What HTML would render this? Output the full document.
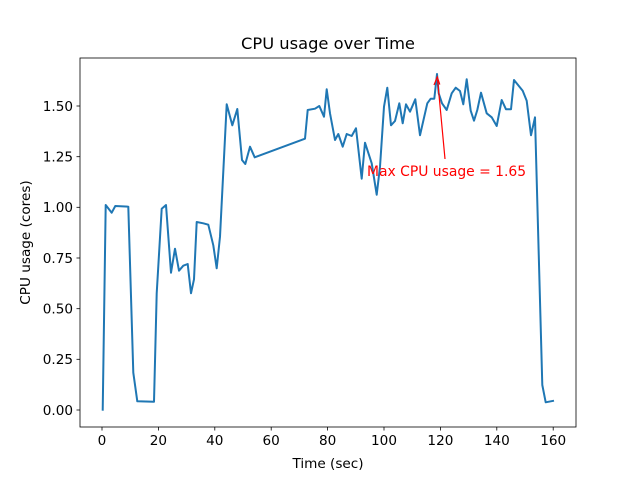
<!DOCTYPE html>
<html><head><style>body{margin:0;background:#fff}svg{display:block}text{font-family:"DejaVu Sans","Liberation Sans",sans-serif}</style></head><body>
<svg width="640" height="480" viewBox="0 0 640 480" xmlns="http://www.w3.org/2000/svg">
<rect width="640" height="480" fill="#fff"/>
<polyline fill="none" stroke="#1f77b4" stroke-width="2" stroke-linejoin="round" points="102.7,410.7 105.7,205 111.7,212.7 115.3,206 128.3,206.7 133.3,372.7 137.3,401.3 154,401.7 156.7,293.3 161.7,208.7 166,205 171,272.7 175,248.7 179,270.7 183.3,265.7 187.7,264 191,293.3 194,279.3 196.7,222 203.3,223.3 208.3,224.7 213.3,245.3 216.7,268.3 220,236.7 226.7,104.3 232.3,125.3 237.3,109 242,160 245.3,164 250,146.7 254.7,157.3 305,138.7 307.7,110 315,108.7 319.3,106 324,116.7 326.7,89.3 330,113.3 335,140 338.3,134 342.7,146.7 346.7,134 351.7,136 356,128.3 361.7,178.7 365,142.7 371.7,163.3 376.7,194.7 380,166.7 384,106.7 387.3,87.7 391,125.3 395,121 399.3,103.3 402.7,123.3 406,104.3 410,111.7 415.3,99.3 420,135.3 427.3,103.3 430.7,98.7 434.3,98.7 437,74 438.7,93.3 442,103.3 446.7,110 451.7,93.3 455.7,87.7 460,91 463.3,104.3 466.7,79.3 470.7,110.7 474,120.7 477.3,110 481,92.7 486.7,113.3 491.7,117.3 496.7,126 501.7,100 506,109.3 511,109.3 514,80 522.7,90.7 526.7,100.7 531,135.3 535,117.3 542.3,385 545.7,402.3 554,400.7"/>
<rect x="80" y="58" width="496" height="369" fill="none" stroke="#000" stroke-width="0.8"/>
<g stroke="#000" stroke-width="0.8">
<line x1="102" y1="427" x2="102" y2="430.5"/><line x1="158.4" y1="427" x2="158.4" y2="430.5"/><line x1="214.8" y1="427" x2="214.8" y2="430.5"/><line x1="271.2" y1="427" x2="271.2" y2="430.5"/><line x1="327.6" y1="427" x2="327.6" y2="430.5"/><line x1="384" y1="427" x2="384" y2="430.5"/><line x1="440.4" y1="427" x2="440.4" y2="430.5"/><line x1="496.8" y1="427" x2="496.8" y2="430.5"/><line x1="553.2" y1="427" x2="553.2" y2="430.5"/>
<line x1="76.5" y1="410" x2="80" y2="410"/><line x1="76.5" y1="359.3" x2="80" y2="359.3"/><line x1="76.5" y1="308.7" x2="80" y2="308.7"/><line x1="76.5" y1="258" x2="80" y2="258"/><line x1="76.5" y1="207.3" x2="80" y2="207.3"/><line x1="76.5" y1="156.7" x2="80" y2="156.7"/><line x1="76.5" y1="106" x2="80" y2="106"/>
</g>
<g font-size="13.6" text-anchor="middle" fill="#000">
<text x="102" y="445">0</text><text x="158.4" y="445">20</text><text x="214.8" y="445">40</text><text x="271.2" y="445">60</text><text x="327.6" y="445">80</text><text x="384" y="445">100</text><text x="440.4" y="445">120</text><text x="496.8" y="445">140</text><text x="553.2" y="445">160</text>
</g>
<g font-size="13.6" text-anchor="end" fill="#000">
<text x="73" y="414.8">0.00</text><text x="73" y="364.1">0.25</text><text x="73" y="313.5">0.50</text><text x="73" y="262.8">0.75</text><text x="73" y="212.1">1.00</text><text x="73" y="161.5">1.25</text><text x="73" y="110.8">1.50</text>
</g>
<text x="328" y="468" font-size="13.6" text-anchor="middle">Time (sec)</text>
<text x="30" y="242.5" font-size="13.6" text-anchor="middle" transform="rotate(-90 30 242.5)">CPU usage (cores)</text>
<text x="328" y="49" font-size="16.3" text-anchor="middle">CPU usage over Time</text>
<line x1="445" y1="159" x2="437.6" y2="80" stroke="red" stroke-width="1.2"/>
<polyline points="434,85 437.3,77 439.8,84.6" fill="none" stroke="red" stroke-width="1.2"/>
<text x="367" y="176" font-size="13.9" fill="red">Max CPU usage = 1.65</text>
</svg>
</body></html>
